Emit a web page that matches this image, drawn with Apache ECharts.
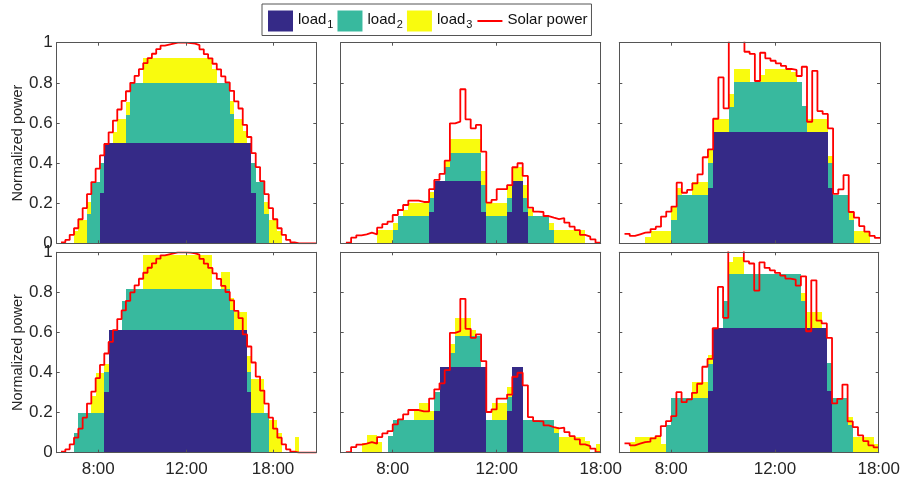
<!DOCTYPE html>
<html>
<head>
<meta charset="utf-8">
<script src="https://cdn.jsdelivr.net/npm/echarts@6/dist/echarts.min.js"></script>
<style>
  html, body { margin: 0; background: #fff; }
  #chart { width: 903px; height: 480px; }
</style>
</head>
<body>
<div id="chart"></div>
<script>
// tick labels on the time axis (placed at these steps)
var xTickAt60 = [9.6, 30, 50];
var xTickAt50 = [10, 30, 50];
var xTickText = ['8:00', '12:00', '18:00'];
var loadNames = ['load1', 'load2', 'load3'];
var loadColors = ['#352a87', '#38b99e', '#f9fb0e'];

// solar power, one value per step (same profile in both rows of a column)
var solarCol1 = ['-', 0.005, 0.017, 0.042, 0.075, 0.12, 0.175, 0.245, 0.305, 0.372,
  0.438, 0.495, 0.553, 0.612, 0.667, 0.71, 0.758, 0.80, 0.835, 0.868,
  0.898, 0.923, 0.945, 0.968, 0.985, 0.99, 0.995, 1.0, 1.0, 1.0,
  0.998, 0.995, 0.988, 0.967, 0.943, 0.922, 0.895, 0.867, 0.832, 0.802,
  0.76, 0.708, 0.672, 0.59, 0.53, 0.45, 0.38, 0.31, 0.245, 0.175,
  0.12, 0.075, 0.042, 0.017, 0.005, 0, 0, 0, 0, 0];
var solarCol2 = ['-', 0.003, 0.028, 0.04, 0.045, 0.053, 0.045, 0.078, 0.096, 0.108,
  0.141, 0.166, 0.191, 0.213, 0.213, 0.206, 0.206, 0.27, 0.316, 0.346,
  0.412, 0.598, 0.607, 0.768, 0.618, 0.573, 0.59, 0.457, 0.203, 0.216,
  0.27, 0.27, 0.29, 0.379, 0.399, 0.336, 0.178, 0.158, 0.156, 0.136,
  0.128, 0.121, 0.125, 0.103, 0.083, 0.066, 0.042, 0.033, 0.02, 0.003];
var solarCol3 = ['-', 0.047, 0.037, 0.045, 0.053, 0.055, 0.071, 0.083, 0.133, 0.158,
  0.183, 0.302, 0.252, 0.266, 0.299, 0.344, 0.429, 0.468, 0.621, 0.827,
  0.673, 1.1, 1.1, 1.1, 0.955, 0.944, 0.809, 0.95, 0.922, 0.91,
  0.897, 0.884, 0.869, 0.864, 0.834, 0.88, 0.606, 0.86, 0.659, 0.645,
  0.573, 0.246, 0.269, 0.34, 0.156, 0.128, 0.086, 0.058, 0.037, 0.027];

// top left
var load1A = [0,0,0,0,0,0,0,0,0,0, 0.25,0.5,0.5,0.5,0.5,0.5,0.5,0.5,0.5,0.5,
  0.5,0.5,0.5,0.5,0.5,0.5,0.5,0.5,0.5,0.5, 0.5,0.5,0.5,0.5,0.5,0.5,0.5,0.5,0.5,0.5,
  0.5,0.5,0.5,0.5,0.5,0.25,0,0,0,0, 0,0,0,0,0,0,0,0,0,0];
var load2A = [0,0,0,0,0,0,0,0.147,0.305,0.305, 0.15,0,0,0,0,0,0.14,0.3,0.3,0.3,
  0.3,0.3,0.3,0.3,0.3,0.3,0.3,0.3,0.3,0.3, 0.3,0.3,0.3,0.3,0.3,0.3,0.3,0.3,0.3,0.3,
  0.145,0,0,0,0,0.15,0.305,0.305,0.147,0, 0,0,0,0,0,0,0,0,0,0];
var load3A = [0,0,0,0,0.062,0.117,0.117,0.06,0,0, 0,0,0,0.053,0.12,0.12,0.066,0,0,0,
  0.125,0.125,0.125,0.125,0.125,0.125,0.125,0.125,0.125,0.125, 0.125,0.125,0.125,0.125,0.125,0.125,0.067,0,0,0,
  0.063,0.12,0.12,0.058,0,0,0,0,0.06,0.117, 0.117,0.062,0,0,0,0,0,0,0,0];

// top middle
var load1B = [0,0,0,0,0,0,0,0,0,0, 0,0,0,0,0,0,0,0.156,0.312,0.312,
  0.312,0.312,0.312,0.312,0.312,0.312,0.312,0.158,0,0, 0,0,0.158,0.312,0.312,0.158,0,0,0,0,
  0,0,0,0,0,0,0,0,0,0];
var load2B = [0,0,0,0,0,0,0,0,0,0, 0.066,0.136,0.136,0.136,0.136,0.136,0.136,0.068,0,0,
  0.07,0.14,0.14,0.14,0.14,0.14,0.14,0.133,0.136,0.136, 0.136,0.136,0.066,0,0,0.066,0.136,0.136,0.136,0.136,
  0.066,0,0,0,0,0,0,0,0,0];
var load3B = [0,0,0,0,0,0,0,0.066,0.066,0.066, 0.037,0,0.03,0.067,0.067,0.067,0.067,0.033,0,0,
  0.03,0.068,0.068,0.068,0.068,0.068,0.068,0.071,0.067,0.067, 0.067,0.067,0.062,0.067,0.067,0.066,0.034,0,0,0,
  0.037,0.066,0.066,0.066,0.066,0.066,0.066,0,0,0];

// top right
var load1C = [0,0,0,0,0,0,0,0,0,0, 0,0,0,0,0,0,0,0.274,0.556,0.556,
  0.556,0.556,0.556,0.556,0.556,0.556,0.556,0.556,0.556,0.556, 0.556,0.556,0.556,0.556,0.556,0.556,0.556,0.556,0.556,0.556,
  0.274,0,0,0,0,0,0,0,0,0];
var load2C = [0,0,0,0,0,0,0,0,0,0, 0.116,0.241,0.241,0.241,0.241,0.241,0.241,0.125,0,0,
  0,0.125,0.25,0.25,0.25,0.25,0.25,0.25,0.25,0.25, 0.25,0.25,0.25,0.25,0.25,0.128,0,0,0,0,
  0.125,0.241,0.241,0.241,0.116,0,0,0,0,0];
var load3C = [0,0,0,0,0,0.03,0.061,0.061,0.061,0.061, 0.063,0.033,0,0,0.066,0.066,0.066,0.066,0.065,0.065,
  0.065,0.063,0.063,0.063,0.063,0,0,0.033,0.063,0.063, 0.063,0.063,0.063,0.046,0,0,0.065,0.065,0.065,0.065,
  0.036,0,0,0,0.034,0.061,0.061,0.061,0,0];

// bottom left
var load1D = [0,0,0,0,0,0,0,0,0,0, 0,0.305,0.612,0.612,0.612,0.612,0.612,0.612,0.612,0.612,
  0.612,0.612,0.612,0.612,0.612,0.612,0.612,0.612,0.612,0.612, 0.612,0.612,0.612,0.612,0.612,0.612,0.612,0.612,0.612,0.612,
  0.612,0.612,0.612,0.612,0.305,0,0,0,0,0, 0,0,0,0,0,0,0,0,0,0];
var load2D = [0,0,0,0,0.1,0.2,0.2,0.2,0.2,0.2, 0.2,0.1,0,0,0,0.145,0.205,0.205,0.205,0.205,
  0.205,0.205,0.205,0.205,0.205,0.205,0.205,0.205,0.205,0.205, 0.205,0.205,0.205,0.205,0.205,0.205,0.205,0.205,0.205,0.205,
  0.1,0,0,0,0.1,0.2,0.2,0.2,0.2,0, 0,0,0,0,0,0,0,0,0,0];
var load3D = [0,0,0,0,0,0,0,0,0.084,0.2, 0.2,0.04,0,0,0,0,0,0,0,0,
  0.17,0.17,0.17,0.17,0.17,0.17,0.17,0.17,0.17,0.17, 0.17,0.17,0.17,0.17,0.17,0.17,0,0,0.083,0.083,
  0.06,0.09,0.09,0.09,0.08,0.17,0.17,0.17,0,0.163, 0.163,0.1,0,0,0,0.08,0,0,0,0];

// bottom middle
var load1E = [0,0,0,0,0,0,0,0,0,0, 0,0,0,0,0,0,0,0,0.21,0.43,
  0.43,0.43,0.43,0.43,0.43,0.43,0.43,0.43,0,0, 0,0,0.21,0.43,0.43,0,0,0,0,0,
  0,0,0,0,0,0,0,0,0,0];
var load2E = [0,0,0,0,0,0,0,0,0,0.083, 0.163,0.163,0.163,0.163,0.163,0.163,0.163,0.163,0.094,0,
  0,0.07,0.152,0.152,0.152,0.152,0.152,0,0.163,0.163, 0.163,0.163,0.07,0,0,0.163,0.163,0.163,0.163,0.163,
  0.163,0.1,0,0,0,0,0,0,0,0];
var load3E = [0,0,0,0,0.047,0.088,0.088,0.055,0,0, 0,0,0,0,0.047,0.083,0.083,0.047,0,0,
  0,0.04,0.088,0.088,0.088,0.03,0,0,0,0.083, 0.083,0.083,0.05,0,0,0,0,0,0,0,
  0,0.03,0.08,0.08,0.08,0.08,0.08,0.06,0,0.043];

// bottom right
var load1F = [0,0,0,0,0,0,0,0,0,0, 0,0,0,0,0,0,0,0.31,0.62,0.62,
  0.62,0.62,0.62,0.62,0.62,0.62,0.62,0.62,0.62,0.62, 0.62,0.62,0.62,0.62,0.62,0.62,0.62,0.62,0.62,0.62,
  0.31,0,0,0,0,0,0,0,0,0];
var load2F = [0,0,0,0,0,0,0,0,0,0.138, 0.271,0.271,0.271,0.271,0.271,0.271,0.271,0.132,0,0,
  0.137,0.272,0.272,0.272,0.272,0.272,0.272,0.272,0.272,0.272, 0.272,0.272,0.272,0.272,0.272,0.137,0,0,0,0,
  0.136,0.271,0.271,0.271,0.138,0,0,0,0,0];
var load3F = [0,0,0.055,0.08,0.08,0.08,0.08,0.08,0.043,0, 0,0,0,0,0.083,0.083,0.083,0.045,0,0,
  0,0.06,0.083,0.083,0,0,0,0,0,0, 0,0,0,0,0,0.04,0.084,0.084,0.084,0,
  0,0,0,0,0.04,0.08,0.08,0.08,0.08,0.043];

var font = 'Liberation Sans, Arial, Helvetica, sans-serif';
var axisColor = '#555';

var panels = [
  {left: 56.7, top: 42.7, width: 259.6, height: 200.6, n: 60, ticks: xTickAt60, solar: solarCol1, loads: [load1A, load2A, load3A], xLabels: false, yLabels: true},
  {left: 340.7, top: 42.7, width: 260, height: 200.6, n: 50, ticks: xTickAt50, solar: solarCol2, loads: [load1B, load2B, load3B], xLabels: false, yLabels: false},
  {left: 619.3, top: 42.7, width: 260.7, height: 200.6, n: 50, ticks: xTickAt50, solar: solarCol3, loads: [load1C, load2C, load3C], xLabels: false, yLabels: false},
  {left: 56.7, top: 252.3, width: 259.6, height: 200.4, n: 60, ticks: xTickAt60, solar: solarCol1, loads: [load1D, load2D, load3D], xLabels: true, yLabels: true},
  {left: 340.7, top: 252.3, width: 260, height: 200.4, n: 50, ticks: xTickAt50, solar: solarCol2, loads: [load1E, load2E, load3E], xLabels: true, yLabels: false},
  {left: 619.3, top: 252.3, width: 260.7, height: 200.4, n: 50, ticks: xTickAt50, solar: solarCol3, loads: [load1F, load2F, load3F], xLabels: true, yLabels: false}
];

// one filled step [x, x+1] sitting on the loads below it
function drawStep(params, api) {
  var v = api.value(2);
  if (!v) return null;
  var x = api.value(0), b = api.value(1);
  var p0 = api.coord([x, b]);
  var p1 = api.coord([x + 1, b + v]);
  var x0 = Math.round(p0[0]), x1 = Math.round(p1[0]);
  var y0 = Math.round(p0[1]), y1 = Math.round(p1[1]);
  return {
    type: 'rect',
    shape: {x: x0, y: y1, width: x1 - x0, height: y0 - y1},
    style: {fill: api.visual('color')}
  };
}

var option = {
  animation: false,
  backgroundColor: '#fff',
  legend: {
    left: 262, top: 4,
    selectedMode: false,
    itemWidth: 25, itemHeight: 21, itemGap: 4,
    padding: [5, 4, 4, 6],
    borderColor: '#555', borderWidth: 1,
    data: [
      {name: 'load1', icon: 'rect'},
      {name: 'load2', icon: 'rect'},
      {name: 'load3', icon: 'rect'},
      {name: 'Solar power', itemStyle: {color: 'rgba(0,0,0,0)', borderWidth: 0}}
    ],
    formatter: function (name) {
      if (name === 'Solar power') return '{m|Solar power}';
      return '{m|load}{s|' + name.slice(4) + '}';
    },
    textStyle: {
      fontFamily: font, color: '#111',
      rich: {
        m: {fontFamily: font, fontSize: 15, lineHeight: 18, verticalAlign: 'top', color: '#111'},
        s: {fontFamily: font, fontSize: 11, lineHeight: 11, verticalAlign: 'bottom', padding: [10, 0, 0, 1], color: '#111'}
      }
    }
  },
  grid: [], xAxis: [], yAxis: [], series: []
};

panels.forEach(function (p, k) {
  option.grid.push({left: p.left, top: p.top, width: p.width, height: p.height});
  var ls = {color: axisColor, width: 1};
  ['bottom', 'top'].forEach(function (pos) {
    option.xAxis.push({
      type: 'value', gridIndex: k, position: pos, min: 0, max: p.n, z: 5,
      axisLine: {show: true, onZero: false, lineStyle: ls},
      axisTick: {show: true, inside: true, length: 3, customValues: p.ticks, lineStyle: ls},
      axisLabel: {
        show: p.xLabels && pos === 'bottom', customValues: p.ticks,
        formatter: function (v) { return xTickText[p.ticks.indexOf(v)]; },
        fontFamily: font, fontSize: 17, color: '#262626', margin: 8
      },
      splitLine: {show: false}
    });
  });
  ['left', 'right'].forEach(function (pos) {
    var named = p.yLabels && pos === 'left';
    option.yAxis.push({
      type: 'value', gridIndex: k, position: pos, min: 0, max: 1, interval: 0.2, z: 5,
      name: named ? 'Normalized power' : '',
      nameLocation: 'middle', nameGap: 31,
      nameTextStyle: {fontFamily: font, fontSize: 14.5, color: '#262626'},
      axisLine: {show: true, onZero: false, lineStyle: ls},
      axisTick: {show: true, inside: true, length: 3, lineStyle: ls},
      axisLabel: {show: named, fontFamily: font, fontSize: 17, color: '#262626', margin: 4},
      splitLine: {show: false}
    });
  });

  var base = [];
  for (var i = 0; i < p.n; i++) base.push(0);
  p.loads.forEach(function (vals, j) {
    var data = vals.map(function (v, i) { return [i, base[i], v]; });
    vals.forEach(function (v, i) { base[i] += v; });
    option.series.push({
      type: 'custom', name: loadNames[j],
      xAxisIndex: 2 * k, yAxisIndex: 2 * k,
      renderItem: drawStep, clip: true,
      itemStyle: {color: loadColors[j]},
      encode: {x: 0, y: 2},
      data: data, z: 2
    });
  });

  var line = p.solar.map(function (v, i) { return [i, v]; });
  line.push([p.n, p.solar[p.n - 1]]);
  option.series.push({
    type: 'line', name: 'Solar power',
    xAxisIndex: 2 * k, yAxisIndex: 2 * k,
    step: 'end', symbol: 'none', clip: true,
    lineStyle: {color: '#ff0000', width: 1.8},
    itemStyle: {color: '#ff0000'},
    data: line, z: 3
  });
});

var chart = echarts.init(document.getElementById('chart'));
chart.setOption(option);
</script>
</body>
</html>
